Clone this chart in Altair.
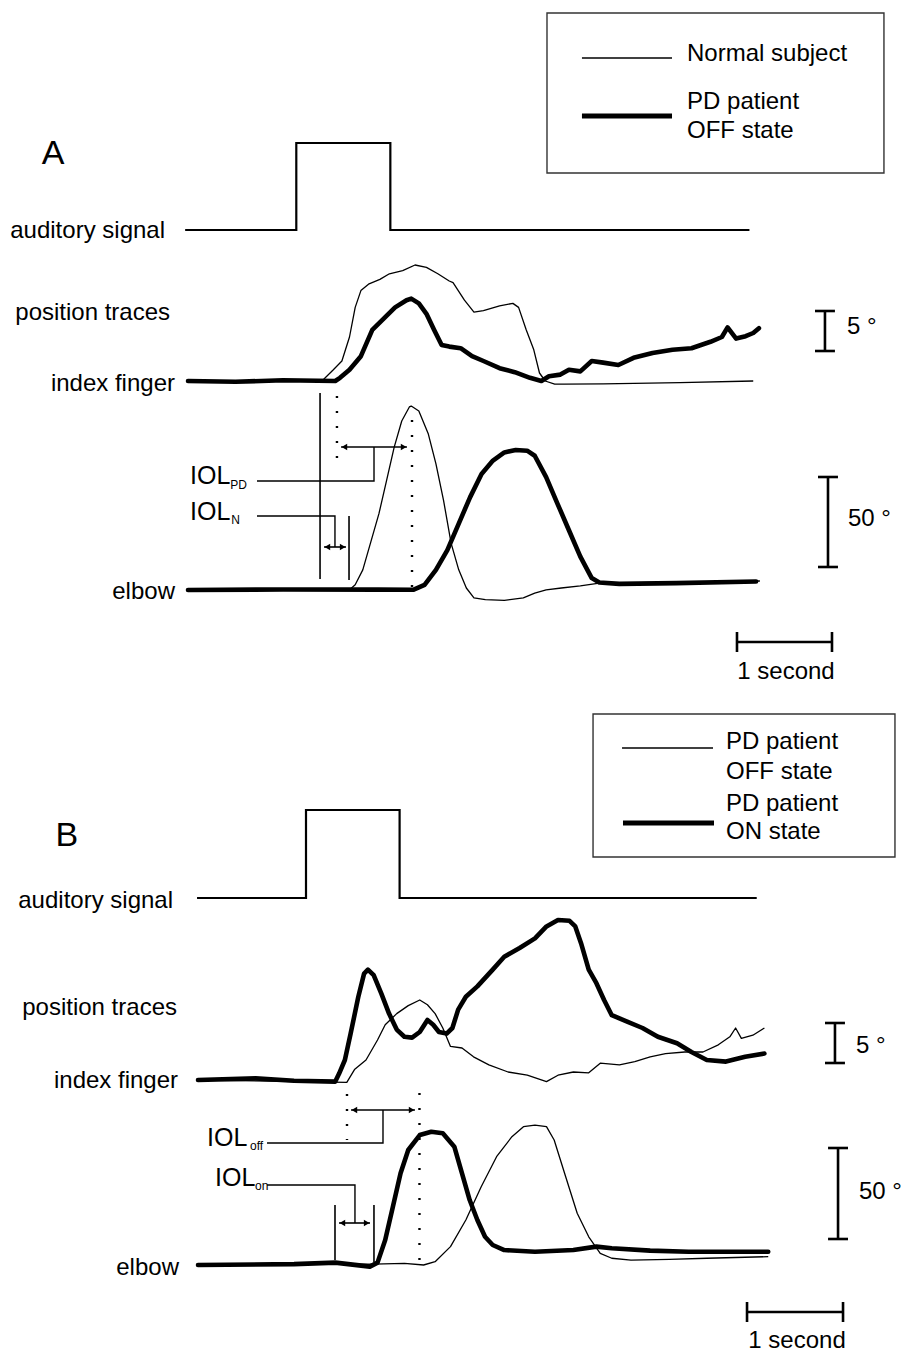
import altair as alt
import pandas as pd

FONT = "Liberation Sans"

# ------------------------------------------------------------------
# Panel A : normal subject (thin) vs PD patient OFF state (thick)
# time in seconds from trace start, finger / elbow position in degrees
# ------------------------------------------------------------------
A_sig_start, A_sig_on, A_sig_off, A_sig_end = -0.03, 1.14, 2.13, 5.91

A_norm_finger_t = [0, 1.41, 1.53, 1.62, 1.70, 1.76, 1.82, 1.90, 2.02, 2.12, 2.26, 2.39,
                   2.51, 2.63, 2.75, 2.79, 2.91, 3.01, 3.11, 3.28, 3.42, 3.48, 3.56, 3.64,
                   3.70, 3.76, 3.86, 3.96, 4.37, 5.18, 5.95]
A_norm_finger_deg = [0, 0, 1.4, 2.5, 5.5, 9.2, 11.3, 12.1, 12.7, 13.4, 13.8, 14.5,
                     14.2, 13.4, 12.5, 12.3, 10.1, 8.6, 8.8, 9.4, 9.7, 9.2, 6.4, 3.9,
                     1.0, 0.0, -0.4, -0.4, -0.35, -0.2, 0.0]

A_pd_finger_t = [0, 0.5, 1.0, 1.55, 1.60, 1.70, 1.82, 1.94, 2.06, 2.18, 2.30, 2.35,
                 2.43, 2.51, 2.59, 2.67, 2.75, 2.87, 2.99, 3.11, 3.28, 3.44, 3.60, 3.72,
                 3.80, 3.92, 4.01, 4.13, 4.25, 4.37, 4.53, 4.69, 4.89, 5.10, 5.30, 5.50,
                 5.62, 5.68, 5.77, 5.87, 5.95, 6.01]
A_pd_finger_deg = [0, -0.1, 0.1, 0, 0.4, 1.4, 3.1, 6.4, 7.8, 9.2, 10.1, 10.3,
                   9.7, 8.4, 6.4, 4.5, 4.3, 4.1, 3.1, 2.5, 1.6, 1.1, 0.4, 0,
                   0.6, 0.8, 1.4, 1.2, 2.5, 2.3, 2.0, 2.9, 3.5, 3.9, 4.1, 4.9,
                   5.5, 6.7, 5.3, 5.6, 6.0, 6.6]

A_norm_elbow_t = [0, 1.71, 1.76, 1.84, 1.92, 2.01, 2.09, 2.17, 2.25, 2.33, 2.35, 2.43,
                  2.53, 2.61, 2.69, 2.77, 2.85, 2.93, 3.01, 3.13, 3.33, 3.53, 3.65, 3.77,
                  3.93, 4.13, 4.33, 5.18, 6.02]
A_norm_elbow_deg = [0, 0.5, 2.9, 11.2, 25.9, 42.4, 60.8, 79.2, 93.9, 101.7, 102.2, 99.4,
                    86.6, 70.1, 49.8, 25.9, 11.2, 1.1, -4.4, -5.4, -5.8, -4.4, -1.7, 0.1,
                    1.1, 2.3, 3.8, 4.4, 5.0]

A_pd_elbow_t = [0, 1.0, 2.0, 2.37, 2.49, 2.61, 2.73, 2.85, 2.97, 3.09, 3.21, 3.33,
                3.45, 3.57, 3.65, 3.77, 3.89, 4.01, 4.13, 4.25, 4.33, 4.54, 5.14, 5.98]
A_pd_elbow_deg = [0, 0.3, 0.2, 0.1, 2.9, 11.2, 22.2, 36.9, 51.6, 64.5, 71.9, 76.4,
                  77.8, 77.4, 74.6, 62.7, 47.9, 33.2, 18.5, 6.6, 4.2, 3.4, 3.8, 4.7]

# movement onsets (s): finger / elbow of each trace
A_onsets = {"norm_finger": 1.39, "norm_elbow": 1.695, "pd_finger": 1.568, "pd_elbow": 2.358}

# ------------------------------------------------------------------
# Panel B : PD patient OFF state (thin) vs ON state (thick)
# ------------------------------------------------------------------
B_sig_start, B_sig_on, B_sig_off, B_sig_end = -0.01, 1.125, 2.10, 5.82

B_on_finger_t = [0, 0.6, 1.0, 1.43, 1.47, 1.53, 1.59, 1.67, 1.73, 1.77, 1.83, 1.91,
                 1.99, 2.07, 2.15, 2.23, 2.31, 2.39, 2.45, 2.51, 2.59, 2.65, 2.71, 2.79,
                 2.91, 3.07, 3.19, 3.35, 3.51, 3.63, 3.75, 3.87, 3.93, 3.99, 4.07, 4.15,
                 4.23, 4.31, 4.47, 4.63, 4.79, 4.99, 5.14, 5.30, 5.50, 5.70, 5.90]
B_on_finger_deg = [0, 0.2, -0.1, -0.2, 0.8, 2.5, 5.8, 10.4, 13.3, 13.8, 13.1, 10.8,
                   8.3, 6.3, 5.4, 5.3, 6.0, 7.5, 6.9, 6.0, 5.8, 6.5, 8.8, 10.4,
                   11.7, 13.8, 15.4, 16.5, 17.7, 19.2, 20.0, 19.9, 19.2, 17.1, 13.8, 12.1,
                   10.0, 8.1, 7.3, 6.5, 5.4, 4.6, 3.5, 2.5, 2.3, 2.9, 3.3]

B_off_finger_t = [0, 1.55, 1.63, 1.75, 1.87, 1.95, 2.07, 2.19, 2.31, 2.39, 2.47, 2.55,
                  2.63, 2.75, 2.87, 3.03, 3.23, 3.43, 3.63, 3.75, 3.91, 4.07, 4.19, 4.39,
                  4.55, 4.71, 4.87, 5.07, 5.26, 5.42, 5.54, 5.60, 5.66, 5.78, 5.90]
B_off_finger_deg = [0, -0.3, 1.3, 2.5, 5.0, 6.9, 8.3, 9.3, 10.0, 9.4, 8.3, 6.5,
                    4.2, 4.0, 2.9, 1.9, 1.0, 0.6, -0.2, 0.6, 1.0, 0.9, 2.1, 1.9,
                    2.3, 2.9, 3.3, 3.5, 3.5, 4.4, 5.4, 6.5, 5.2, 5.6, 6.5]

B_on_elbow_t = [0, 1.0, 1.43, 1.79, 1.87, 1.95, 2.03, 2.11, 2.19, 2.31, 2.43, 2.55,
                2.67, 2.75, 2.83, 2.91, 2.99, 3.07, 3.19, 3.51, 3.91, 4.15, 4.31, 4.71,
                5.11, 5.50, 5.94]
B_on_elbow_deg = [0, 0.5, 1.3, -0.9, 1.3, 13.7, 32.0, 50.4, 63.2, 71.4, 73.2, 72.4,
                  65.0, 50.4, 35.7, 24.7, 15.5, 11.0, 8.2, 7.3, 8.2, 10.1, 9.2, 7.9,
                  7.3, 7.3, 7.3]

B_off_elbow_t = [0, 1.83, 2.15, 2.35, 2.47, 2.63, 2.79, 2.95, 3.11, 3.27, 3.39, 3.51,
                 3.63, 3.71, 3.83, 3.95, 4.07, 4.19, 4.31, 4.51, 4.91, 5.30, 5.94]
B_off_elbow_deg = [0, 0.5, 0.9, 0, 1.8, 10.1, 24.7, 43.0, 59.5, 70.5, 76.0, 76.9,
                   76.0, 68.7, 48.5, 28.4, 15.5, 6.4, 3.7, 2.7, 3.1, 3.7, 4.6]

B_onsets = {"on_finger": 1.427, "on_elbow": 1.833, "off_finger": 1.552, "off_elbow": 2.307}

SCALE_DEG_FINGER = 5
SCALE_DEG_ELBOW = 50
SCALE_SECONDS = 1


# ------------------------------------------------------------------
# helpers
# ------------------------------------------------------------------
def trace(t, deg, base, gain, name):
    return pd.DataFrame({"t": t, "y": [base - d * gain for d in deg],
                         "trace": name, "i": list(range(len(t)))})


def signal(start, on, off, end, base, gain):
    lv = [0, 0, 1, 1, 0, 0]
    return pd.DataFrame({"t": [start, on, on, off, off, end],
                         "y": [base - v * gain for v in lv], "i": list(range(6))})


def panel(cfg):
    xs = alt.Scale(domain=cfg["xdom"], nice=False, zero=False)
    ys = alt.Scale(domain=cfg["ydom"], reverse=True, nice=False, zero=False)

    def X(f):
        return alt.X(f"{f}:Q", scale=xs, axis=None)

    def Y(f):
        return alt.Y(f"{f}:Q", scale=ys, axis=None)

    layers = []
    # auditory signal
    layers.append(alt.Chart(cfg["signal"]).mark_line(color="black", strokeWidth=2.2, strokeJoin="miter")
                  .encode(x=X("t"), y=Y("y"), order="i:Q"))
    # thin traces, then thick traces on top
    layers.append(alt.Chart(cfg["thin"]).mark_line(color="black", strokeWidth=1.3, strokeJoin="round")
                  .encode(x=X("t"), y=Y("y"), detail="trace:N", order="i:Q"))
    layers.append(alt.Chart(cfg["thick"]).mark_line(color="black", strokeWidth=4.6, strokeJoin="round",
                                                    strokeCap="round")
                  .encode(x=X("t"), y=Y("y"), detail="trace:N", order="i:Q"))
    # onset markers
    layers.append(alt.Chart(cfg["solid"]).mark_rule(color="black", strokeWidth=1.6)
                  .encode(x=X("t"), y=Y("y"), y2=alt.Y2("y2")))
    layers.append(alt.Chart(cfg["dotted"]).mark_rule(color="black", strokeWidth=2.4, strokeDash=[2, 13])
                  .encode(x=X("t"), y=Y("y"), y2=alt.Y2("y2")))
    # label connectors
    layers.append(alt.Chart(cfg["brackets"]).mark_line(color="black", strokeWidth=1.4, strokeJoin="miter")
                  .encode(x=X("t"), y=Y("y"), detail="id:N", order="i:Q"))
    # double-headed latency arrows
    layers.append(alt.Chart(cfg["arrows"]).mark_rule(color="black", strokeWidth=1.6)
                  .encode(x=X("t1"), x2=alt.X2("t2"), y=Y("y")))
    heads = cfg["arrows"]
    left = pd.DataFrame({"t": heads["t1"] + 0.035, "y": heads["y"]})
    right = pd.DataFrame({"t": heads["t2"] - 0.035, "y": heads["y"]})
    layers.append(alt.Chart(left).mark_point(shape="triangle-left", filled=True, color="black",
                                             size=42, opacity=1)
                  .encode(x=X("t"), y=Y("y")))
    layers.append(alt.Chart(right).mark_point(shape="triangle-right", filled=True, color="black",
                                              size=42, opacity=1)
                  .encode(x=X("t"), y=Y("y")))
    # calibration bars
    layers.append(alt.Chart(cfg["vbars"]).mark_rule(color="black", strokeWidth=2.6)
                  .encode(x=X("t"), y=Y("y"), y2=alt.Y2("y2")))
    layers.append(alt.Chart(cfg["hbars"]).mark_rule(color="black", strokeWidth=2.6)
                  .encode(x=X("t1"), x2=alt.X2("t2"), y=Y("y")))
    # legend frame and samples
    layers.append(alt.Chart(cfg["box"]).mark_rect(fill="white", fillOpacity=0, stroke="#333333",
                                                  strokeWidth=1.4)
                  .encode(x=X("t1"), x2=alt.X2("t2"), y=Y("y1"), y2=alt.Y2("y2")))
    for w, sub in cfg["legend_lines"].groupby("w"):
        layers.append(alt.Chart(sub).mark_rule(color="black", strokeWidth=float(w))
                      .encode(x=X("t1"), x2=alt.X2("t2"), y=Y("y")))
    # texts
    for (al, fs), sub in cfg["texts"].groupby(["align", "size"]):
        layers.append(alt.Chart(sub).mark_text(align=al, baseline="middle", font=FONT,
                                               fontSize=float(fs), color="black")
                      .encode(x=X("t"), y=Y("y"), text="text:N"))
    return alt.layer(*layers).properties(width=902, height=cfg["height"])


# ------------------------------------------------------------------
# Panel A layout
# ------------------------------------------------------------------
A = {"height": 695, "xdom": [-1.979, 7.516], "ydom": [0, 695]}
A_base = {"sig": 230, "finger": 381, "elbow": 590}
A_gain = {"sig": 87, "finger": 8.0, "elbow": 1.8}
A["signal"] = signal(A_sig_start, A_sig_on, A_sig_off, A_sig_end, A_base["sig"], A_gain["sig"])
A["thin"] = pd.concat([
    trace(A_norm_finger_t, A_norm_finger_deg, A_base["finger"], A_gain["finger"], "finger"),
    trace(A_norm_elbow_t, A_norm_elbow_deg, A_base["elbow"], A_gain["elbow"], "elbow")])
A["thick"] = pd.concat([
    trace(A_pd_finger_t, A_pd_finger_deg, A_base["finger"], A_gain["finger"], "finger"),
    trace(A_pd_elbow_t, A_pd_elbow_deg, A_base["elbow"], A_gain["elbow"], "elbow")])
A["solid"] = pd.DataFrame({"t": [A_onsets["norm_finger"], A_onsets["norm_elbow"]],
                           "y": [393, 516], "y2": [579, 580]})
A["dotted"] = pd.DataFrame({"t": [A_onsets["pd_finger"], A_onsets["pd_elbow"]],
                            "y": [396, 420], "y2": [466, 590]})
A["brackets"] = pd.DataFrame({"t": [1.958, 1.958, 0.726, 1.547, 1.547, 0.726],
                              "y": [447, 481, 481, 547, 516, 516],
                              "id": ["pd"] * 3 + ["n"] * 3, "i": [0, 1, 2, 0, 1, 2]})
A["arrows"] = pd.DataFrame({"t1": [1.611, 1.432], "t2": [2.305, 1.663], "y": [447, 547]})
A["vbars"] = pd.DataFrame({"t": [6.705, 6.737],
                           "y": [351 - SCALE_DEG_FINGER * A_gain["finger"],
                                 567 - SCALE_DEG_ELBOW * A_gain["elbow"]],
                           "y2": [351, 567]})
A["hbars"] = pd.DataFrame({
    "t1": [6.600, 6.632, 5.779],
    "t2": [6.810, 6.842, 5.779 + SCALE_SECONDS],
    "y": [A["vbars"]["y"][0], A["vbars"]["y"][1], 642]})
A["hbars"] = pd.concat([A["hbars"], pd.DataFrame({
    "t1": [6.600, 6.632], "t2": [6.810, 6.842], "y": [351, 567]})])
A["vbars"] = pd.concat([A["vbars"], pd.DataFrame({
    "t": [5.779, 5.779 + SCALE_SECONDS], "y": [632, 632], "y2": [652, 652]})])
A["box"] = pd.DataFrame({"t1": [3.779], "t2": [7.326], "y1": [13], "y2": [173]})
A["legend_lines"] = pd.DataFrame({"t1": [4.147, 4.147], "t2": [5.095, 5.095],
                                  "y": [58, 116], "w": [1.4, 5.0]})
A["texts"] = pd.DataFrame([
    ("A", -1.42, 154, 34, "center"),
    ("auditory signal", -0.242, 231, 24, "right"),
    ("position traces", -0.189, 313, 24, "right"),
    ("index finger", -0.137, 384, 24, "right"),
    ("elbow", -0.137, 592, 24, "right"),
    ("IOL", 0.021, 476, 25, "left"),
    ("PD", 0.445, 485, 12, "left"),
    ("IOL", 0.021, 512, 25, "left"),
    ("N", 0.455, 520, 12, "left"),
    ("5 °", 6.937, 327, 24, "left"),
    ("50 °", 6.947, 519, 24, "left"),
    ("1 second", 6.295, 672, 24, "center"),
    ("Normal subject", 5.253, 54, 24, "left"),
    ("PD patient", 5.253, 102, 24, "left"),
    ("OFF state", 5.253, 131, 24, "left"),
], columns=["text", "t", "y", "size", "align"])

# ------------------------------------------------------------------
# Panel B layout
# ------------------------------------------------------------------
B = {"height": 665, "xdom": [-2.0625, 7.3333], "ydom": [695, 1360]}
B_base = {"sig": 898, "finger": 1080, "elbow": 1265}
B_gain = {"sig": 88, "finger": 8.0, "elbow": 1.82}
B["signal"] = signal(B_sig_start, B_sig_on, B_sig_off, B_sig_end, B_base["sig"], B_gain["sig"])
B["thin"] = pd.concat([
    trace(B_off_finger_t, B_off_finger_deg, B_base["finger"], B_gain["finger"], "finger"),
    trace(B_off_elbow_t, B_off_elbow_deg, B_base["elbow"], B_gain["elbow"], "elbow")])
B["thick"] = pd.concat([
    trace(B_on_finger_t, B_on_finger_deg, B_base["finger"], B_gain["finger"], "finger"),
    trace(B_on_elbow_t, B_on_elbow_deg, B_base["elbow"], B_gain["elbow"], "elbow")])
B["solid"] = pd.DataFrame({"t": [B_onsets["on_finger"], B_onsets["on_elbow"]],
                           "y": [1205, 1205], "y2": [1260, 1262]})
B["dotted"] = pd.DataFrame({"t": [B_onsets["off_finger"], B_onsets["off_elbow"]],
                            "y": [1094, 1093], "y2": [1140, 1262]})
B["brackets"] = pd.DataFrame({"t": [1.927, 1.927, 0.719, 0.719, 1.635, 1.635],
                              "y": [1110, 1143, 1143, 1185, 1185, 1223],
                              "id": ["off"] * 3 + ["on"] * 3, "i": [0, 1, 2, 0, 1, 2]})
B["arrows"] = pd.DataFrame({"t1": [1.594, 1.469], "t2": [2.26, 1.792], "y": [1110, 1223]})
B["vbars"] = pd.DataFrame({"t": [6.635, 6.667, 5.719, 5.719 + SCALE_SECONDS],
                           "y": [1063 - SCALE_DEG_FINGER * B_gain["finger"],
                                 1239 - SCALE_DEG_ELBOW * B_gain["elbow"], 1302, 1302],
                           "y2": [1063, 1239, 1322, 1322]})
B["hbars"] = pd.DataFrame({
    "t1": [6.531, 6.531, 6.563, 6.563, 5.719],
    "t2": [6.739, 6.739, 6.771, 6.771, 5.719 + SCALE_SECONDS],
    "y": [B["vbars"]["y"][0], 1063, B["vbars"]["y"][1], 1239, 1312]})
B["box"] = pd.DataFrame({"t1": [4.115], "t2": [7.26], "y1": [714], "y2": [857]})
B["legend_lines"] = pd.DataFrame({"t1": [4.417, 4.427], "t2": [5.365, 5.375],
                                  "y": [748, 823], "w": [1.4, 5.0]})
B["texts"] = pd.DataFrame([
    ("B", -1.365, 836, 34, "center"),
    ("auditory signal", -0.26, 901, 24, "right"),
    ("position traces", -0.219, 1008, 24, "right"),
    ("index finger", -0.208, 1081, 24, "right"),
    ("elbow", -0.198, 1268, 24, "right"),
    ("IOL", 0.094, 1138, 25, "left"),
    ("off", 0.542, 1146, 12, "left"),
    ("IOL", 0.177, 1178, 25, "left"),
    ("on", 0.594, 1186, 12, "left"),
    ("5 °", 6.854, 1046, 24, "left"),
    ("50 °", 6.885, 1192, 24, "left"),
    ("1 second", 6.24, 1341, 24, "center"),
    ("PD patient", 5.5, 742, 24, "left"),
    ("OFF state", 5.5, 772, 24, "left"),
    ("PD patient", 5.5, 804, 24, "left"),
    ("ON state", 5.5, 832, 24, "left"),
], columns=["text", "t", "y", "size", "align"])

chart = (alt.vconcat(panel(A), panel(B), spacing=0)
         .resolve_scale(x="independent", y="independent")
         .properties(padding=0, background="white")
         .configure_view(stroke=None, strokeWidth=0))

chart.save("out.html", embed_options={"renderer": "svg", "actions": False})
